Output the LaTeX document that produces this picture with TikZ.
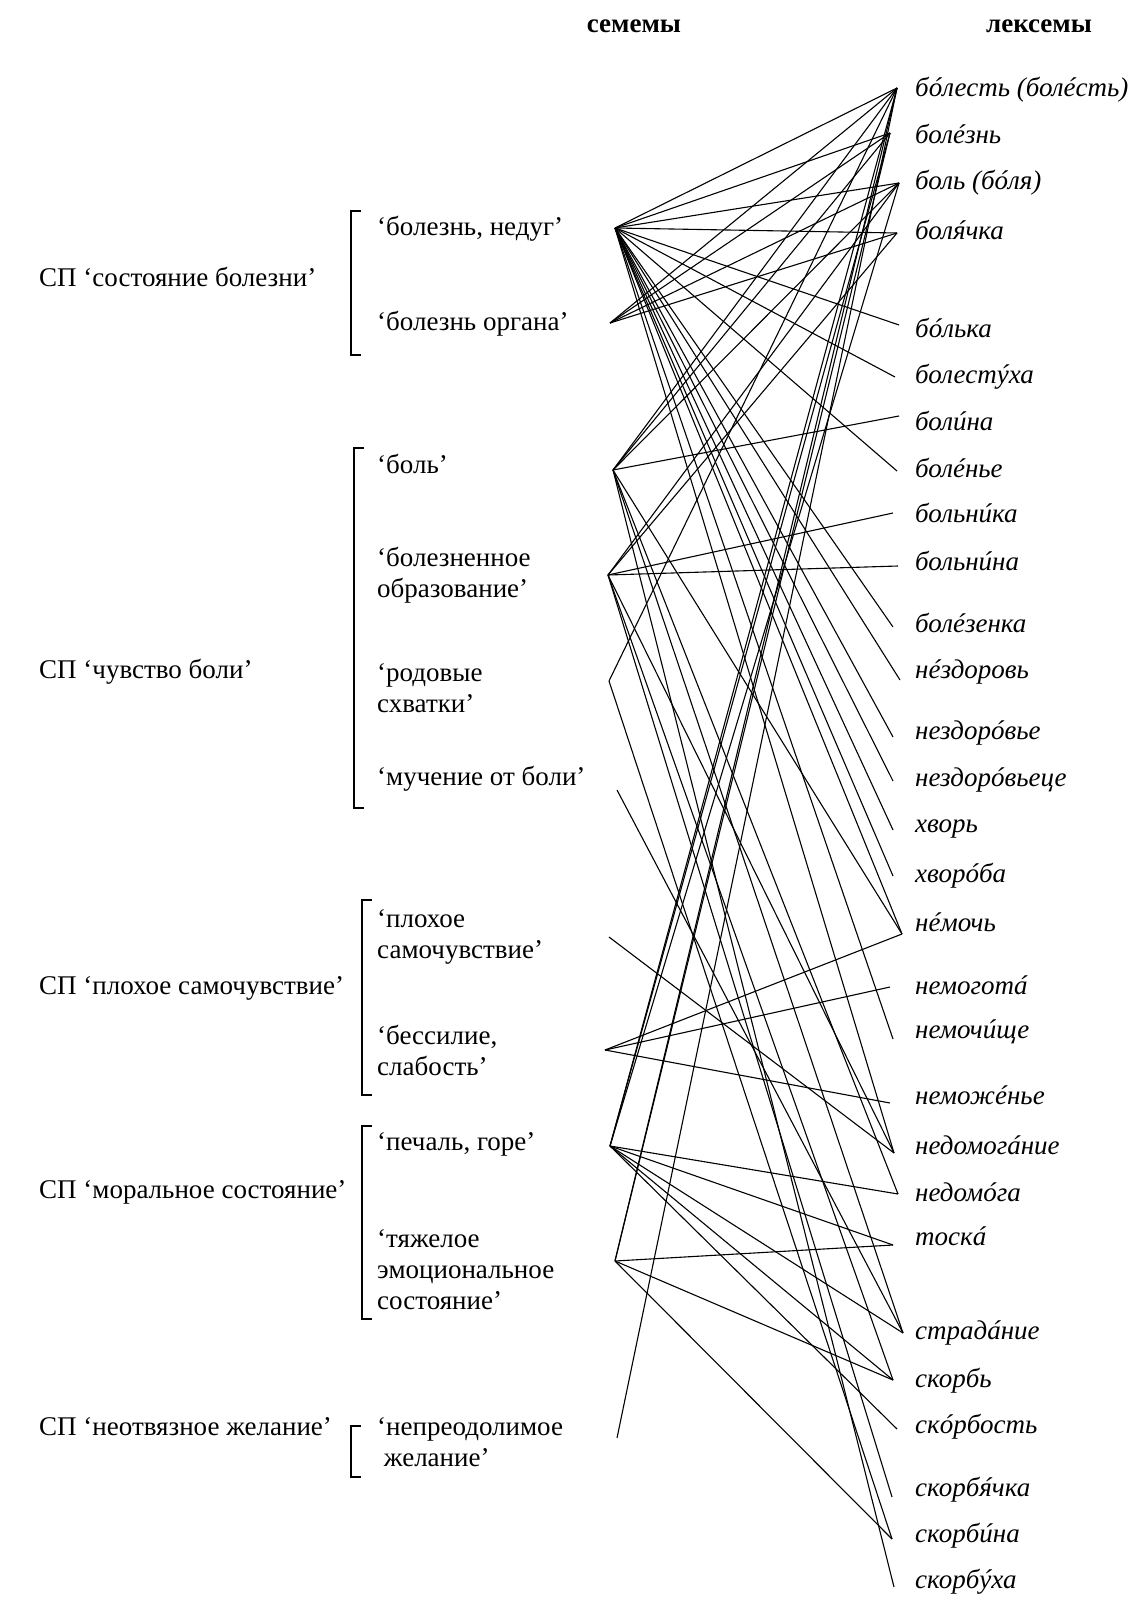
\documentclass[tikz,border=0pt]{standalone}
\usepackage{fontspec}
\setmainfont{Liberation Serif}
\usetikzlibrary{positioning,calc}

% stressed vowel
\newcommand\ud[1]{\ooalign{#1\cr\hidewidth\kern0.14em ´\hidewidth\cr}}

\tikzset{
  txt/.style={inner sep=0pt, font=\fontsize{27}{31}\selectfont},
  sp/.style={txt, anchor=west},
  sem/.style={txt, anchor=west, align=left},
  lex/.style={txt, anchor=west, font=\fontsize{27}{31}\selectfont\itshape},
  head/.style={txt, font=\fontsize{27}{31}\selectfont\bfseries},
  link/.style={line width=1.1pt},
  brack/.style={line width=1.1pt}
}

\begin{document}
\begin{tikzpicture}[x=1pt,y=-1pt]
   \useasboundingbox (0,0) rectangle (1138,1597);

   % headers
   \node[head] (hsem) at (634,26) {семемы};
   \node[head] (hlex) at (1039,26) {лексемы};

   % semantic fields
   \node[sp] (spBolezn) at (39,277) {СП ‘состояние болезни’};
   \node[sp] (spBol) at (39,672) {СП ‘чувство боли’};
   \node[sp] (spSamochuv) at (39,988) {СП ‘плохое самочувствие’};
   \node[sp] (spMoral) at (39,1192) {СП ‘моральное состояние’};
   \node[sp] (spZhelanie) at (39,1427) {СП ‘неотвязное желание’};

   % brackets
   \draw[brack] (361,211) -- (351,211) -- (351,355) -- (361,355);
   \draw[brack] (364,448) -- (354,448) -- (354,808) -- (364,808);
   \draw[brack] (372,900) -- (362,900) -- (362,1095) -- (372,1095);
   \draw[brack] (372,1126) -- (362,1126) -- (362,1319) -- (372,1319);
   \draw[brack] (361,1426) -- (351,1426) -- (351,1477) -- (361,1477);

   % sememes
   \node[sem] (tNedug) at (377,229) {‘болезнь, недуг’};
   \node[sem] (tOrgan) at (377,324) {‘болезнь органа’};
   \node[sem] (tBol) at (377,464) {‘боль’};
   \node[sem] (tObraz) at (377,575) {‘болезненное\\образование’};
   \node[sem] (tSkhvatki) at (377,688) {‘родовые\\схватки’};
   \node[sem] (tMuchenie) at (377,779) {‘мучение от боли’};
   \node[sem] (tSamochuv) at (377,937) {‘плохое\\самочувствие’};
   \node[sem] (tBessilie) at (377,1050) {‘бессилие,\\слабость’};
   \node[sem] (tPechal) at (377,1144) {‘печаль, горе’};
   \node[sem] (tEmoc) at (377,1270) {‘тяжелое\\эмоциональное\\состояние’};
   \node[sem] (tZhelanie) at (377,1442) {‘непреодолимое\\\ желание’};

   \coordinate (sNedug) at (615,228);
   \coordinate (sOrgan) at (610,323);
   \coordinate (sBol) at (613,470);
   \coordinate (sObraz) at (608,575);
   \coordinate (sSkhvatki) at (609,681);
   \coordinate (sMuchenie) at (617,790);
   \coordinate (sSamochuv) at (609,937);
   \coordinate (sBessilie) at (605,1050);
   \coordinate (sPechal) at (610,1146);
   \coordinate (sEmoc) at (615,1261);
   \coordinate (sZhelanie) at (617,1438);

   % lexemes
   \node[lex] (xBolest) at (915,90) {б\ud{о}лесть (бол\ud{е}сть)};
   \node[lex] (xBolezn) at (915,134) {бол\ud{е}знь};
   \node[lex] (xBol) at (915,183) {боль (б\ud{о}ля)};
   \node[lex] (xBolyachka) at (915,230) {бол\ud{я}чка};
   \node[lex] (xBolka) at (915,328) {б\ud{о}лька};
   \node[lex] (xBolestukha) at (915,374) {болест\ud{у}ха};
   \node[lex] (xBolina) at (915,421) {бол\ud{и}на};
   \node[lex] (xBolenye) at (915,468) {бол\ud{е}нье};
   \node[lex] (xBolnika) at (915,513) {больн\ud{и}ка};
   \node[lex] (xBolnina) at (915,561) {больн\ud{и}на};
   \node[lex] (xBolezenka) at (915,623) {бол\ud{е}зенка};
   \node[lex] (xNezdorov) at (915,672) {н\ud{е}здоровь};
   \node[lex] (xNezdorovye) at (915,733) {нездор\ud{о}вье};
   \node[lex] (xNezdorovyece) at (915,780) {нездор\ud{о}вьеце};
   \node[lex] (xKhvor) at (915,829) {хворь};
   \node[lex] (xKhvoroba) at (915,876) {хвор\ud{о}ба};
   \node[lex] (xNemoch) at (915,925) {н\ud{е}мочь};
   \node[lex] (xNemogota) at (915,988) {немогот\ud{а}};
   \node[lex] (xNemochishche) at (915,1035) {немоч\ud{и}ще};
   \node[lex] (xNemozhenye) at (915,1098) {немож\ud{е}нье};
   \node[lex] (xNedomoganie) at (915,1145) {недомог\ud{а}ние};
   \node[lex] (xNedomoga) at (915,1192) {недом\ud{о}га};
   \node[lex] (xToska) at (915,1239) {тоск\ud{а}};
   \node[lex] (xStradanie) at (915,1333) {страд\ud{а}ние};
   \node[lex] (xSkorb) at (915,1381) {скорбь};
   \node[lex] (xSkorbost) at (915,1427) {ск\ud{о}рбость};
   \node[lex] (xSkorbyachka) at (915,1490) {скорб\ud{я}чка};
   \node[lex] (xSkorbina) at (915,1536) {скорб\ud{и}на};
   \node[lex] (xSkorbukha) at (915,1582) {скорб\ud{у}ха};

   \coordinate (bolest) at (897,88);
   \coordinate (bolezn) at (890,133);
   \coordinate (bol) at (899,183);
   \coordinate (bolyachka) at (897,233);
   \coordinate (bolka) at (899,325);
   \coordinate (bolestukha) at (895,377);
   \coordinate (bolina) at (899,416);
   \coordinate (bolenye) at (897,471);
   \coordinate (bolnika) at (893,513);
   \coordinate (bolnina) at (898,566);
   \coordinate (bolezenka) at (893,627);
   \coordinate (nezdorov) at (900,680);
   \coordinate (nezdorovye) at (893,737);
   \coordinate (nezdorovyece) at (893,781);
   \coordinate (khvor) at (893,830);
   \coordinate (khvoroba) at (893,876);
   \coordinate (nemoch) at (902,934);
   \coordinate (nemogota) at (890,987);
   \coordinate (nemochishche) at (893,1039);
   \coordinate (nemozhenye) at (890,1103);
   \coordinate (nedomoganie) at (894,1153);
   \coordinate (nedomoga) at (898,1194);
   \coordinate (toska) at (893,1245);
   \coordinate (stradanie) at (903,1333);
   \coordinate (skorb) at (893,1380);
   \coordinate (skorbost) at (897,1429);
   \coordinate (skorbyachka) at (892,1497);
   \coordinate (skorbina) at (892,1539);
   \coordinate (skorbukha) at (894,1587);

   % links
   \draw[link] (sNedug) edge (bolest) edge (bolezn) edge (bol) edge (bolyachka)
      edge (bolka) edge (bolestukha) edge (bolenye) edge (bolezenka)
      edge (nezdorov) edge (nezdorovye) edge (nezdorovyece) edge (khvor)
      edge (khvoroba) edge (nemoch) edge (nemochishche) edge (nedomoganie);
   \draw[link] (sOrgan) edge (bolest) edge (bolezn) edge (bol) edge (bolyachka);
   \draw[link] (sBol) edge (bolest) edge (bolezn) edge (bol) edge (bolina)
      edge (nemoch) edge (nedomoga) edge (stradanie) edge (skorbukha);
   \draw[link] (sObraz) edge (bol) edge (bolyachka) edge (bolnika) edge (bolnina)
      edge (nedomoganie) edge (skorb) edge (skorbyachka);
   \draw[link] (sSkhvatki) edge (bolest) edge (skorbina);
   \draw[link] (sMuchenie) edge (stradanie);
   \draw[link] (sSamochuv) edge (nedomoganie);
   \draw[link] (sBessilie) edge (nemoch) edge (nemogota) edge (nemozhenye);
   \draw[link] (sPechal) edge (bolest) edge (bolezn) edge (bol) edge (nedomoga)
      edge (toska) edge (stradanie) edge (skorb) edge (skorbost);
   \draw[link] (sEmoc) edge (bolest) edge (bolezn) edge (toska) edge (skorb)
      edge (skorbina);
   \draw[link] (sZhelanie) edge (bolest);
\end{tikzpicture}
\end{document}
